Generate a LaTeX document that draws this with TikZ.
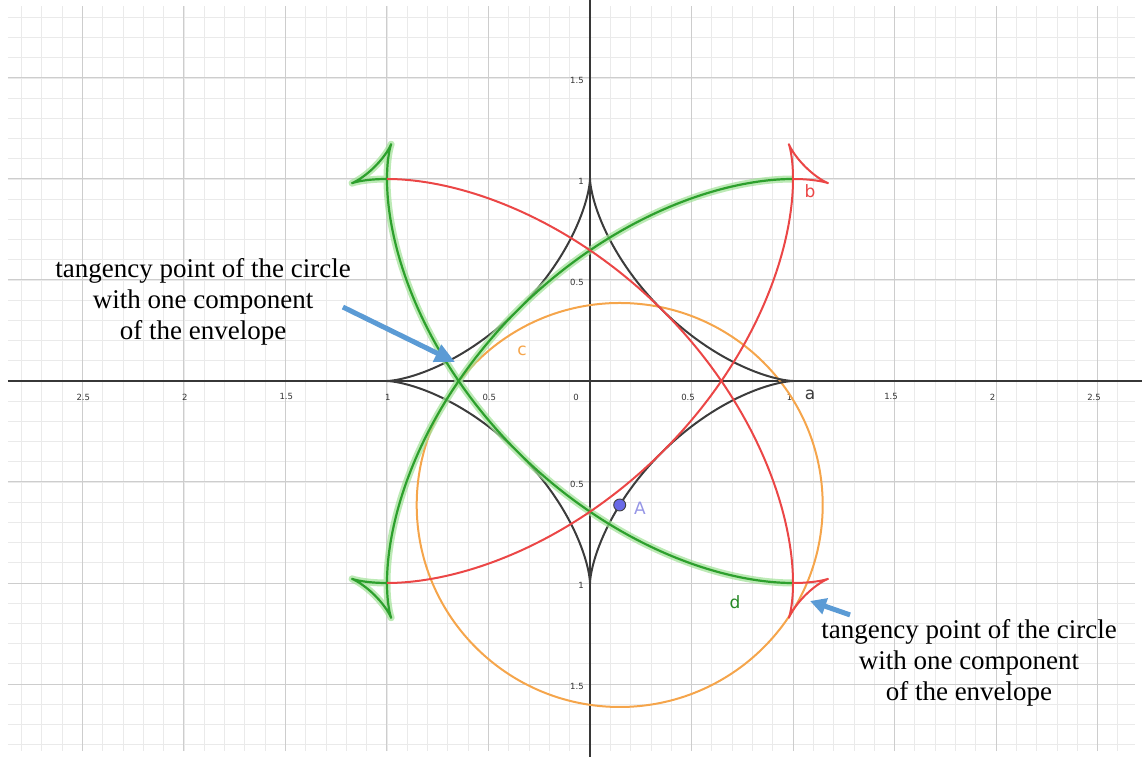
\documentclass[tikz,border=0pt]{standalone}
\usepackage{fontspec}
\setmainfont{Liberation Serif}
\newfontfamily\geofont{DejaVu Sans}
\usetikzlibrary{arrows.meta}
\definecolor{gridminor}{RGB}{234,234,234}
\definecolor{gridmajor}{RGB}{205,205,205}
\definecolor{axiscol}{RGB}{55,55,55}
\definecolor{astroidcol}{RGB}{60,60,60}
\definecolor{redcol}{RGB}{235,70,70}
\definecolor{greencol}{RGB}{45,160,45}
\definecolor{glowcol}{RGB}{160,225,150}
\definecolor{orangecol}{RGB}{245,165,75}
\definecolor{arrowblue}{RGB}{91,155,213}
\definecolor{pointfill}{RGB}{105,105,230}
\definecolor{labelA}{RGB}{150,150,230}
\begin{document}
\begin{tikzpicture}[x=203pt,y=202pt,
  ticklabel/.style={font=\geofont\fontsize{8.5}{9}\selectfont, text=black!80, inner sep=0pt},
  curvelabel/.style={font=\geofont\fontsize{17}{17}\selectfont, inner sep=0pt},
  note/.style={font=\fontsize{27}{31}\selectfont, align=center, inner sep=0pt},
  pointer/.style={arrowblue, line width=5pt, -{Triangle[length=20pt,width=18pt]}},
  pointersmall/.style={arrowblue, line width=5pt, -{Triangle[length=16pt,width=16pt]}},
  redcurve/.style={redcol, line width=2pt, line join=round},
  greencurve/.style={greencol, line width=2.2pt, line join=round},
  greenglow/.style={glowcol, line width=7pt, opacity=0.7, line join=round},
  astroid/.style={astroidcol, line width=2pt, line join=round},
  circ/.style={orangecol, line width=2pt}]
\useasboundingbox (-2.9064,-1.8614) rectangle (2.7241,1.8861);
% grid
\draw[gridminor, line width=0.8pt, step=0.1] (-2.867,-1.832) grid (2.685,1.856);
\draw[gridmajor, line width=1pt, step=0.5] (-2.867,-1.832) grid (2.685,1.856);
% axes
\draw[axiscol, line width=1.4pt] (-2.867,0) -- (2.72,0);
\draw[axiscol, line width=1.4pt] (0,-1.86) -- (0,1.886);
% tick labels x
\foreach \v/\t in {-2.5/2.5,-2/2,-1.5/1.5,-1/1,-0.5/0.5}
  \node[ticklabel] at (\v+0.004,-0.079) {\t};
\foreach \v/\t in {0.5/0.5,1/1,1.5/1.5,2/2,2.5/2.5}
  \node[ticklabel] at (\v-0.017,-0.079) {\t};
\node[ticklabel] at (-0.069,-0.079) {0};
% tick labels y
\foreach \v/\t in {1.5/1.5,1/1,0.5/0.5,-0.5/0.5,-1/1,-1.5/1.5}
  \node[ticklabel, anchor=east] at (-0.03,\v-0.014) {\t};
% circle c
\coordinate (A) at ({cos(-58.2)*cos(-58.2)*cos(-58.2)},{sin(-58.2)*sin(-58.2)*sin(-58.2)});
\draw[circ] (A) circle[radius=1];
% astroid a
\draw[astroid, variable=\t, domain=0:360, samples=361] plot ({cos(\t)*cos(\t)*cos(\t)},{sin(\t)*sin(\t)*sin(\t)}) -- cycle;
% green envelope component d (with glow)
\draw[greenglow, variable=\t, domain=0:180, samples=361] plot ({cos(\t)*cos(\t)*cos(\t)-sin(\t)},{sin(\t)*sin(\t)*sin(\t)-cos(\t)});
\draw[greenglow, variable=\t, domain=180:360, samples=361] plot ({cos(\t)*cos(\t)*cos(\t)+sin(\t)},{sin(\t)*sin(\t)*sin(\t)+cos(\t)});
\draw[greencurve, variable=\t, domain=0:180, samples=361] plot ({cos(\t)*cos(\t)*cos(\t)-sin(\t)},{sin(\t)*sin(\t)*sin(\t)-cos(\t)});
\draw[greencurve, variable=\t, domain=180:360, samples=361] plot ({cos(\t)*cos(\t)*cos(\t)+sin(\t)},{sin(\t)*sin(\t)*sin(\t)+cos(\t)});
% red envelope component b
\draw[redcurve, variable=\t, domain=180:360, samples=361] plot ({cos(\t)*cos(\t)*cos(\t)-sin(\t)},{sin(\t)*sin(\t)*sin(\t)-cos(\t)});
\draw[redcurve, variable=\t, domain=0:180, samples=361] plot ({cos(\t)*cos(\t)*cos(\t)+sin(\t)},{sin(\t)*sin(\t)*sin(\t)+cos(\t)});
% point A
\node[circle, fill=pointfill, draw=black!75, line width=0.9pt, minimum size=12pt, inner sep=0pt] (Apt) at (A) {};
% curve labels
\node[curvelabel, text=redcol] (lb) at (1.084,0.941) {b};
\node[curvelabel, text=astroidcol] (la) at (1.084,-0.069) {a};
\node[curvelabel, text=orangecol] (lc) at (-0.335,0.149) {c};
\node[curvelabel, text=greencol!85!black] (ld) at (0.714,-1.094) {d};
\node[curvelabel, text=labelA] (lA) at (0.246,-0.629) {A};
% annotations
\node[note] (n1) at (-1.906,0.391) {tangency point of the circle\\with one component\\of the envelope};
\node[note] (n2) at (1.867,-1.396) {tangency point of the circle\\with one component\\of the envelope};
\coordinate (s1) at (-1.217,0.366);
\coordinate (e1) at (-0.665,0.094);
\coordinate (s2) at (1.281,-1.158);
\coordinate (e2) at (1.084,-1.089);
\draw[pointer] (s1) -- (e1);
\draw[pointersmall] (s2) -- (e2);
\end{tikzpicture}
\end{document}
